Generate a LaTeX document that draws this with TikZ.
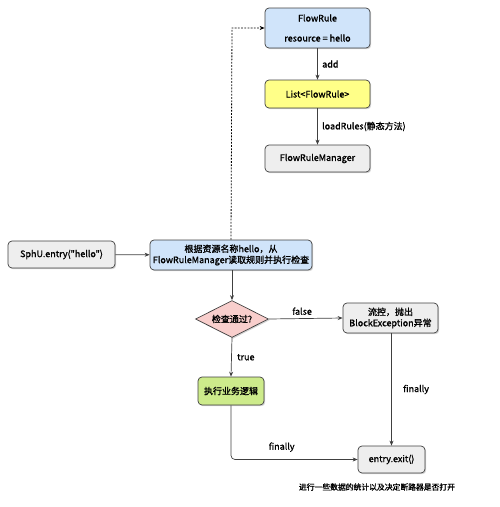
\documentclass[tikz,border=0pt]{standalone}
\usepackage{fontspec}
\setmainfont{Noto Sans CJK SC}[AutoFakeBold=1.2,Ligatures=TeXOff]
\usetikzlibrary{shapes.geometric,shadows,arrows.meta}
\begin{document}
\begin{tikzpicture}[x=1pt,y=-1pt,
  box/.style={draw=black!75,line width=0.7pt,rounded corners=4pt,align=center,
    font=\fontsize{9}{11}\selectfont\bfseries,inner sep=2pt,
    drop shadow={shadow xshift=1.2pt,shadow yshift=-1.2pt,opacity=0.35}},
  blue/.style={fill={rgb,255:red,208;green,228;blue,250}},
  gray/.style={fill={rgb,255:red,238;green,238;blue,238}},
  yel/.style={fill={rgb,255:red,255;green,255;blue,136}},
  grn/.style={fill={rgb,255:red,205;green,235;blue,139}},
  arr/.style={-{Stealth[length=5pt,width=4pt]},line width=0.7pt,draw=black!75},
  lbl/.style={font=\fontsize{9}{10}\selectfont\bfseries}]
\useasboundingbox (0,0) rectangle (500,507);
\node[box,blue,minimum width=105pt,minimum height=40pt] (fr) at (317.5,28) {FlowRule\\[9pt]resource = hello};
\node[box,yel,minimum width=105pt,minimum height=28pt] (list) at (317.5,94) {List<FlowRule>};
\node[box,gray,minimum width=105pt,minimum height=27pt] (frm) at (317.5,158.5) {FlowRuleManager};
\node[box,gray,minimum width=107pt,minimum height=27pt] (sph) at (61.5,254.5) {SphU.entry("hello")};
\node[box,blue,minimum width=162pt,minimum height=30pt] (chk) at (231,255) {根据资源名称hello，从\\FlowRuleManager读取规则并执行检查};
\node[draw=black!75,line width=0.7pt,diamond,aspect=2,fill={rgb,255:red,248;green,206;blue,204},
  minimum width=73pt,minimum height=37pt,inner sep=0pt,font=\fontsize{9}{10}\selectfont\bfseries,
  drop shadow={shadow xshift=1.2pt,shadow yshift=-1.2pt,opacity=0.35}] (dia) at (232,319) {检查通过?};
\node[box,gray,minimum width=95pt,minimum height=30pt] (blk) at (390.5,318) {流控，抛出\\BlockException异常};
\node[box,grn,minimum width=66pt,minimum height=28pt] (biz) at (231,391) {执行业务逻辑};
\node[box,gray,minimum width=67pt,minimum height=27pt] (ex) at (391.5,459.5) {entry.exit()};
\node[font=\fontsize{7.8}{10}\selectfont\bfseries] (note) at (377,487) {进行一些数据的统计以及决定断路器是否打开};
\draw[arr] (fr) -- node[lbl,right,xshift=1pt] {add} (list);
\draw[arr] (list) -- node[lbl,right,xshift=1pt] {loadRules(静态方法)} (frm);
\draw[arr] (sph) -- (chk);
\draw[arr,dash pattern=on 1.8pt off 1.4pt,draw=black,line width=0.8pt] (chk.north) -- (232,28) -- (fr.west);
\draw[arr] (chk.south -| dia.north) -- (dia.north);
\draw[arr] (dia.east) -- node[lbl,above,pos=0.45] {false} (blk.west);
\draw[arr] (dia.south) -- node[lbl,right,xshift=2pt] {true} (biz.north);
\draw[arr] (blk.south -| ex.north) -- node[lbl,right,xshift=8pt] {finally} (ex.north);
\draw[arr,rounded corners=4pt] (biz.south) -- (biz.south |- ex.west) -- node[lbl,above,yshift=4pt,pos=0.4] {finally} (ex.west);
\end{tikzpicture}
\end{document}
